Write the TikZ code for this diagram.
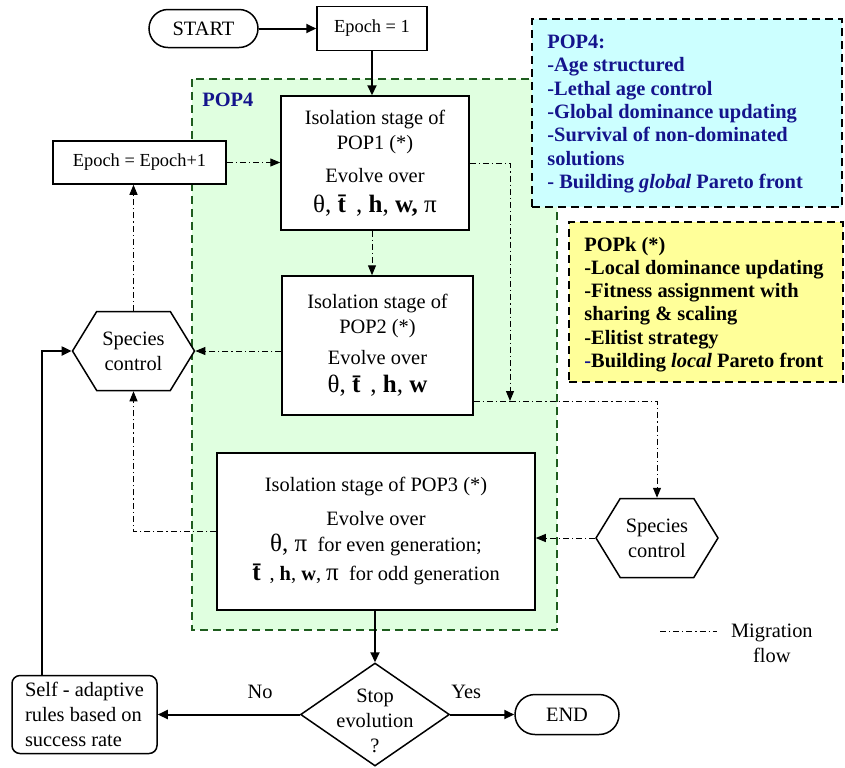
\documentclass[tikz,border=0pt]{standalone}
\usepackage{fontspec}
\setmainfont{Liberation Serif}
\usetikzlibrary{arrows.meta,shapes.geometric,shapes.symbols}
\definecolor{popgreen}{HTML}{E0FFE0}
\definecolor{popedge}{HTML}{1E5C1E}
\definecolor{agecyan}{HTML}{CCFFFF}
\definecolor{localyellow}{HTML}{FFFF99}
\definecolor{popblue}{HTML}{14148C}
\newcommand{\parbig}[1]{{\fontsize{12.5}{14}\selectfont #1}}
\tikzset{
  stage/.style={draw, line width=0.75pt, fill=white, inner sep=0pt, align=center},
  terminal/.style={stage, rounded corners=9.5pt},
  species/.style={signal, signal to=west and east, signal pointer angle=117, draw, line width=0.75pt,
    fill=white, inner sep=0pt, minimum width=61pt, minimum height=39.5pt, align=center},
  decision/.style={diamond, draw, line width=0.75pt, fill=white, inner sep=0pt,
    minimum width=74.5pt, minimum height=51.5pt},
  note/.style={draw, dash pattern=on 4pt off 2.5pt, line width=0.75pt},
  notetext/.style={anchor=west, align=left, inner sep=0pt, font=\fontsize{10.2}{11.65}\selectfont\bfseries},
  popregion/.style={fill=popgreen, draw=popedge, dash pattern=on 4pt off 2.5pt, line width=0.6pt},
  flow/.style={line width=1pt, -{Triangle[length=5pt,width=4.5pt]}},
  migline/.style={line width=0.5pt, dash pattern=on 3pt off 1.5pt on 0.6pt off 1.5pt},
  mig/.style={migline, -{Triangle[length=5pt,width=4pt]}}
}
\begin{document}
\begin{tikzpicture}[x=0.5pt, y=-0.5pt, every node/.style={font=\fontsize{10.2}{12.5}\selectfont}]
  \useasboundingbox (0,0) rectangle (845,767);
  % POP4 region and notes
  \draw[popregion] (192,79) rectangle (557,630);
  \node[anchor=west, inner sep=0pt, text=popblue, font=\fontsize{10.2}{12}\selectfont\bfseries] (poplbl) at (202,100) {POP4};
  \node[note, fill=agecyan, minimum width=155pt, minimum height=94pt] (agenote) at (687,113) {};
  \node[notetext, text=popblue] (agetext) at (547,114) {POP4:\\-Age structured\\-Lethal age control\\-Global dominance updating\\-Survival of non-dominated\\solutions\\- Building \textit{global} Pareto front};
  \node[note, fill=localyellow, minimum width=137pt, minimum height=80pt] (localnote) at (706,302) {};
  \node[notetext] (localtext) at (584,304.5) {POPk (*)\\-Local dominance updating\\-Fitness assignment with\\sharing \& scaling\\-Elitist strategy\\{\color{popblue}-}Building \textit{local} Pareto front};

  % stages
  \node[terminal, minimum width=54.5pt, minimum height=19pt] (start) at (203.5,28.5) {START};
  \node[stage, minimum width=55pt, minimum height=22pt, font=\fontsize{9.2}{11}\selectfont] (epoch) at (372,28.5) {Epoch = 1};
  \node[stage, minimum width=94pt, minimum height=67pt] (pop1) at (375,163)
    {Isolation stage of\\POP1 (*)\\[4pt]Evolve over\\[2.5pt]\parbig{θ, \textbf{\={t}} , \textbf{h}, \textbf{w,} π}};
  \node[stage, minimum width=86.5pt, minimum height=21.5pt, font=\fontsize{9.2}{11}\selectfont] (nextepoch) at (139.5,162.5) {Epoch = Epoch+1};
  \node[stage, minimum width=95.5pt, minimum height=69.5pt] (pop2) at (377.5,345.5)
    {Isolation stage of\\POP2 (*)\\[3pt]Evolve over\\[1.5pt]\parbig{θ, \textbf{\={t}} , \textbf{h}, \textbf{w}}};
  \node[species] (specL) at (133.5,351) {Species\\control};
  \node[stage, minimum width=159pt, minimum height=78.5pt] (pop3) at (376,531.5)
    {Isolation stage of POP3 (*)\\[4.5pt]Evolve over\\[0.5pt]\parbig{θ, π}\ \ for even generation;\\[2pt]\parbig{\textbf{\={t}}} , \textbf{h}, \textbf{w}, \parbig{π}\ \ for odd generation};
  \node[species] (specR) at (657,538) {Species\\control};
  \node[decision] (stop) at (375,714.5) {};
  \node[align=center] (stoptext) at (375,721) {Stop\\evolution\\?};
  \node[terminal, minimum width=52pt, minimum height=20pt, rounded corners=10pt] (finish) at (567,714.5) {END};
  \node[stage, rounded corners=4pt, align=left, minimum width=72.5pt, minimum height=39pt] (adapt) at (84.5,714.5)
    {Self - adaptive\\rules based on\\success rate};

  % main flow
  \draw[flow] (start) -- (epoch);
  \draw[flow] (epoch) -- (epoch |- pop1.north);
  \draw[flow] (pop3.south -| stop.north) -- (stop.north);
  \draw[flow] (stop.west) -- (adapt.east) node[pos=0.28, above=4pt] {No};
  \draw[flow] (stop.east) -- (finish.west) node[pos=0.25, above=4pt] {Yes};
  \draw[flow] ([xshift=15.5pt]adapt.north west) |- (specL.west);

  % migration flow
  \coordinate (drop) at (510,401);
  \draw[mig] (nextepoch.east) -- (nextepoch.east -| pop1.west);
  \draw[mig] (pop1.south -| epoch) -- (pop2.north -| epoch);
  \draw[mig] (pop1.east) -| (drop);
  \draw[migline] (pop2.east |- drop) -- (drop);
  \draw[mig] (drop) -| (specR.north);
  \draw[mig] (pop2.west |- specL.east) -- (specL.east);
  \draw[mig] (specL.north) -- (specL.north |- nextepoch.south);
  \draw[mig] (pop3.west) -| (specL.south);
  \draw[mig] (specR.west) -- (specR.west -| pop3.east);

  % legend
  \coordinate (leg1) at (660,631);
  \coordinate (leg2) at (717,631);
  \draw[migline] (leg1) -- (leg2);
  \node[anchor=west, align=center] (legtext) at (724,643) {Migration\\flow};
\end{tikzpicture}
\end{document}
